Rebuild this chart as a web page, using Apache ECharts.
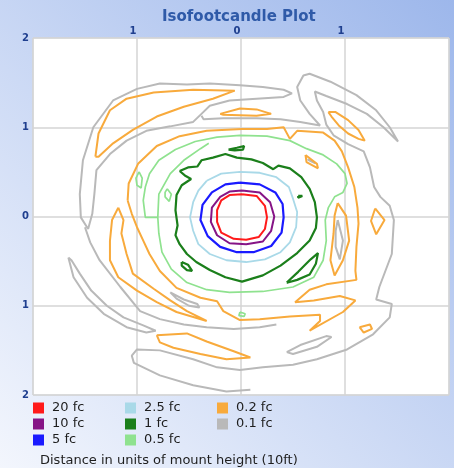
<!DOCTYPE html>
<html><head><meta charset="utf-8">
<script src="https://cdn.jsdelivr.net/npm/echarts@6/dist/echarts.min.js"></script>
<style>html,body{margin:0;padding:0;}#c{width:454px;height:468px;}</style>
</head><body><div id="c"></div>
<script>
// ---- data (distance in mount heights) ----
const levels = ['20 fc','10 fc','5 fc','2.5 fc','1 fc','0.5 fc','0.2 fc','0.1 fc'];
const levelColors = ['#ff1a1a','#861486','#1a1aff','#a9d9e8','#1b7f1b','#8fe28f','#f8aa3c','#b9b9b9'];

const fc20 = [[[0.01,0.25],[0.15,0.23],[0.23,0.12],[0.25,-0.01],[0.23,-0.14],[0.17,-0.23],[0.05,-0.26],[-0.07,-0.25],[-0.19,-0.18],[-0.23,-0.06],[-0.23,0.07],[-0.19,0.18],[-0.11,0.24]]];
const fc10 = [[[0.01,0.29],[0.18,0.27],[0.28,0.16],[0.32,0.00],[0.29,-0.16],[0.21,-0.28],[0.05,-0.31],[-0.11,-0.30],[-0.23,-0.21],[-0.29,-0.06],[-0.28,0.10],[-0.20,0.22],[-0.11,0.28]]];
const fc5 = [[[-0.01,0.38],[0.18,0.36],[0.33,0.27],[0.40,0.14],[0.41,-0.01],[0.39,-0.18],[0.29,-0.33],[0.12,-0.40],[-0.04,-0.40],[-0.20,-0.34],[-0.32,-0.22],[-0.39,-0.04],[-0.37,0.13],[-0.28,0.27],[-0.15,0.36]]];
const fc2_5 = [[[-0.33,0.40],[-0.19,0.48],[-0.01,0.50],[0.18,0.49],[0.34,0.44],[0.46,0.33],[0.50,0.20],[0.54,0.05],[0.53,-0.12],[0.47,-0.29],[0.38,-0.40],[0.23,-0.48],[0.05,-0.51],[-0.14,-0.49],[-0.30,-0.42],[-0.41,-0.31],[-0.46,-0.16],[-0.49,-0.01],[-0.46,0.16],[-0.41,0.29]]];
const fc1 = [
 [[-0.59,0.51],[-0.51,0.55],[-0.42,0.56],[-0.38,0.63],[-0.27,0.66],[-0.15,0.70],[-0.04,0.66],[0.10,0.64],[0.21,0.60],[0.31,0.53],[0.36,0.57],[0.47,0.54],[0.58,0.44],[0.66,0.31],[0.71,0.16],[0.73,-0.01],[0.72,-0.13],[0.66,-0.27],[0.54,-0.41],[0.38,-0.55],[0.21,-0.66],[0.01,-0.73],[-0.15,-0.68],[-0.30,-0.60],[-0.43,-0.51],[-0.52,-0.42],[-0.59,-0.31],[-0.63,-0.21],[-0.61,-0.10],[-0.63,0.07],[-0.62,0.24],[-0.57,0.35],[-0.48,0.42],[-0.54,0.46]],
 [[-0.12,0.75],[-0.04,0.77],[0.03,0.79],[0.02,0.75],[-0.06,0.74]],
 [[0.55,0.23],[0.59,0.23],[0.59,0.21],[0.55,0.21]],
 [[-0.57,-0.51],[-0.51,-0.54],[-0.47,-0.61],[-0.52,-0.60],[-0.57,-0.55]],
 [[0.44,-0.74],[0.55,-0.62],[0.67,-0.48],[0.74,-0.41],[0.72,-0.53],[0.66,-0.65],[0.54,-0.71],[0.45,-0.74]]
];
const fc0_5 = [
 [[-0.80,-0.01],[-0.92,-0.01],[-0.94,0.18],[-0.92,0.33],[-0.88,0.48],[-0.79,0.63],[-0.63,0.75],[-0.44,0.84],[-0.23,0.89],[-0.01,0.91],[0.25,0.90],[0.47,0.85],[0.63,0.76],[0.79,0.69],[0.92,0.59],[1.00,0.48],[1.02,0.37],[0.98,0.27],[0.90,0.22],[0.84,0.10],[0.81,-0.04],[0.82,-0.27],[0.79,-0.49],[0.70,-0.68],[0.50,-0.79],[0.21,-0.84],[-0.11,-0.85],[-0.33,-0.82],[-0.52,-0.74],[-0.67,-0.59],[-0.76,-0.40],[-0.79,-0.19]],
 [[-0.98,0.50],[-0.95,0.43],[-0.96,0.32],[-1.00,0.35],[-1.01,0.43]],
 [[-0.71,0.31],[-0.67,0.25],[-0.69,0.17],[-0.73,0.22],[-0.73,0.27]],
 [[-0.01,-1.07],[0.04,-1.09],[0.03,-1.12],[-0.02,-1.11]]
];
const fc0_5Open = [
 [[-0.80,-0.01],[-0.79,0.25],[-0.68,0.48],[-0.55,0.63],[-0.39,0.76],[-0.31,0.82]]
];
const fc0_2 = [
 [[-1.09,0.18],[-1.08,0.37],[-0.99,0.59],[-0.81,0.79],[-0.59,0.90],[-0.33,0.96],[0.01,0.98],[0.25,0.98],[0.41,1.00],[0.47,0.87],[0.54,0.96],[0.79,0.94],[0.90,0.85],[0.97,0.73],[1.03,0.55],[1.09,0.33],[1.12,0.10],[1.13,-0.08],[1.11,-0.34],[1.10,-0.61],[1.11,-0.71],[0.82,-0.76],[0.66,-0.82],[0.52,-0.96],[0.70,-0.94],[0.95,-0.89],[1.10,-0.94],[0.98,-1.07],[0.66,-1.28],[0.76,-1.17],[0.76,-1.10],[0.47,-1.12],[0.18,-1.15],[-0.01,-1.16],[-0.17,-1.06],[-0.23,-0.95],[-0.39,-0.91],[-0.62,-0.80],[-0.78,-0.61],[-0.88,-0.42],[-0.94,-0.27],[-1.00,-0.12],[-1.05,0.03]],
 [[-1.40,0.67],[-1.37,0.93],[-1.26,1.19],[-1.10,1.32],[-0.84,1.39],[-0.46,1.42],[-0.06,1.41],[-0.27,1.32],[-0.55,1.23],[-0.81,1.12],[-1.04,0.97],[-1.23,0.82],[-1.37,0.67]],
 [[-0.20,1.15],[-0.01,1.21],[0.15,1.20],[0.29,1.15],[0.15,1.13],[-0.17,1.14]],
 [[0.84,1.17],[0.91,1.17],[1.03,1.08],[1.13,0.97],[1.19,0.85],[1.13,0.87],[1.03,0.93],[0.94,1.02],[0.87,1.12]],
 [[1.29,0.09],[1.38,-0.04],[1.30,-0.20],[1.25,-0.05]],
 [[1.14,-1.24],[1.24,-1.21],[1.26,-1.26],[1.18,-1.30]],
 [[0.93,0.15],[1.01,0.01],[1.04,-0.27],[0.98,-0.49],[0.90,-0.66],[0.86,-0.49],[0.89,-0.19],[0.90,0.01]],
 [[0.62,0.69],[0.73,0.59],[0.74,0.54],[0.63,0.61]],
 [[-1.18,0.10],[-1.24,-0.04],[-1.26,-0.27],[-1.26,-0.49],[-1.18,-0.68],[-1.00,-0.83],[-0.81,-0.96],[-0.62,-1.07],[-0.33,-1.17],[-0.52,-1.06],[-0.68,-0.94],[-0.84,-0.81],[-1.04,-0.64],[-1.10,-0.42],[-1.15,-0.19],[-1.13,-0.04]],
 [[-0.81,-1.33],[-0.52,-1.31],[-0.33,-1.40],[-0.07,-1.51],[0.09,-1.58],[-0.14,-1.60],[-0.39,-1.54],[-0.65,-1.47],[-0.78,-1.41]]
];
const fc0_1 = [
 [[-1.47,-0.14],[-1.54,-0.01],[-1.55,0.25],[-1.52,0.63],[-1.42,1.00],[-1.23,1.30],[-1.00,1.43],[-0.78,1.49],[-0.52,1.48],[-0.30,1.49],[-0.01,1.47],[0.21,1.45],[0.41,1.42],[0.49,1.38],[0.41,1.34],[0.15,1.32],[-0.11,1.30],[-0.30,1.24],[-0.38,1.15],[-0.46,1.06],[-0.68,1.01],[-0.91,0.96],[-1.10,0.85],[-1.26,0.70],[-1.39,0.52],[-1.41,0.25],[-1.43,0.03]],
 [[-1.66,-0.46],[-1.61,-0.68],[-1.48,-0.91],[-1.32,-1.09],[-1.10,-1.24],[-0.91,-1.30],[-0.82,-1.28],[-0.94,-1.22],[-1.13,-1.13],[-1.29,-1.00],[-1.44,-0.83],[-1.55,-0.64],[-1.63,-0.49]],
 [[0.44,-1.52],[0.57,-1.44],[0.82,-1.34],[0.87,-1.35],[0.73,-1.46],[0.50,-1.54]],
 [[-0.68,-0.85],[-0.55,-0.93],[-0.42,-0.98],[-0.40,-1.02],[-0.50,-1.00],[-0.62,-0.92]],
 [[0.93,-0.04],[0.98,-0.27],[0.95,-0.48],[0.91,-0.34],[0.91,-0.16]],
 [[0.65,0.645],[0.715,0.595],[0.70,0.59],[0.645,0.635]]
];
const fc0_1Open = [
 [[-0.38,1.13],[-0.36,1.09],[-0.17,1.10],[0.15,1.10],[0.38,1.09],[0.57,1.06],[0.76,1.02],[0.66,1.15],[0.57,1.30],[0.54,1.45],[0.60,1.58],[0.66,1.60],[0.86,1.51],[1.11,1.36],[1.30,1.19],[1.43,1.00],[1.51,0.84],[1.37,1.00],[1.21,1.15],[1.02,1.26],[0.82,1.35],[0.71,1.40],[0.73,1.30],[0.79,1.17],[0.82,1.03],[0.89,0.91],[1.03,0.81],[1.18,0.73],[1.24,0.55],[1.28,0.33],[1.34,0.22],[1.43,0.12],[1.47,-0.04],[1.45,-0.42],[1.33,-0.79],[1.30,-0.93],[1.45,-0.98],[1.43,-1.13],[1.27,-1.32],[1.02,-1.49],[0.73,-1.60],[0.50,-1.66],[0.21,-1.69],[-0.01,-1.72],[-0.23,-1.69],[-0.46,-1.60],[-0.78,-1.50],[-1.00,-1.49],[-1.05,-1.56],[-1.03,-1.64],[-0.78,-1.78],[-0.46,-1.89],[-0.14,-1.96],[0.09,-1.94]],
 [[-1.50,-0.12],[-1.45,-0.29],[-1.36,-0.49],[-1.16,-0.79],[-0.97,-1.06],[-0.78,-1.15],[-0.55,-1.21],[-0.33,-1.24],[-0.07,-1.26],[0.18,-1.24],[0.34,-1.21]]
];
const axisTicks = [-2, -1, 0, 1, 2];

// ---- build ----
const closedByLevel = [fc20, fc10, fc5, fc2_5, fc1, fc0_5, fc0_2, fc0_1];
const openByLevel = [[], [], [], [], [], fc0_5Open, [], fc0_1Open];
const widths = [2, 2, 2.2, 1.8, 2.2, 1.7, 2, 2];

const series = [];
levels.forEach((name, i) => {
  const mk = (pts) => ({
    type: 'line', name, data: pts, symbol: 'none', showSymbol: false,
    silent: true, animation: false, z: 10 - i,
    color: levelColors[i],
    lineStyle: { color: levelColors[i], width: widths[i] },
    itemStyle: { color: levelColors[i] }
  });
  closedByLevel[i].forEach(p => series.push(mk(p.concat([p[0]]))));
  openByLevel[i].forEach(p => series.push(mk(p)));
});

const legendLeft = [33, 125, 217];
const legendRowCenter = [408, 424, 440];
const legends = levels.map((name, i) => ({
  data: [{ name, icon: 'rect' }],
  left: legendLeft[Math.floor(i / 3)],
  top: legendRowCenter[i % 3] - 6.5,
  itemWidth: 11, itemHeight: 11, padding: 0,
  selectedMode: false,
  itemStyle: { borderWidth: 0 },
  textStyle: { fontSize: 13, lineHeight: 13, color: '#1e1e1e', fontFamily: 'DejaVu Sans', padding: [0, 0, 0, 3] }
}));

const chart = echarts.init(document.getElementById('c'), null, { renderer: 'canvas' });
chart.setOption({
  animation: false,
  backgroundColor: {
    type: 'linear', x: 0, y: 1, x2: 1, y2: 0,
    colorStops: [{ offset: 0, color: '#f3f6fd' }, { offset: 1, color: '#9db7eb' }]
  },
  title: [
    { text: 'Isofootcandle Plot', left: 157, top: 5,
      textStyle: { fontSize: 15, fontWeight: 'bold', color: '#2f5aa8', fontFamily: 'DejaVu Sans' } },
    { text: 'Distance in units of mount height (10ft)', left: 35, top: 449,
      textStyle: { fontSize: 13, fontWeight: 'normal', color: '#1e1e1e', fontFamily: 'DejaVu Sans' } }
  ],
  legend: legends,
  grid: { left: 33, right: 5, top: 38, bottom: 73, show: true, backgroundColor: '#ffffff', borderColor: '#cfd3da', borderWidth: 1 },
  xAxis: {
    type: 'value', min: axisTicks[0], max: axisTicks[axisTicks.length - 1], interval: 1, position: 'top',
    axisLine: { show: false }, axisTick: { show: false },
    axisLabel: { formatter: v => String(Math.abs(v)), showMinLabel: false, showMaxLabel: false,
      color: '#1f3f8f', fontWeight: 'bold', fontSize: 10, fontFamily: 'DejaVu Sans', margin: 2, padding: [0, 8, 0, 0] },
    splitLine: { show: true, lineStyle: { color: '#d5d5d5', width: 1.5 } }
  },
  yAxis: {
    type: 'value', min: axisTicks[0], max: axisTicks[axisTicks.length - 1], interval: 1,
    axisLine: { show: false }, axisTick: { show: false },
    axisLabel: { formatter: v => String(Math.abs(v)), color: '#1f3f8f', fontWeight: 'bold', fontSize: 10, fontFamily: 'DejaVu Sans', margin: 4 },
    splitLine: { show: true, lineStyle: { color: '#d5d5d5', width: 1.5 } }
  },
  series
});
</script>
</body></html>
